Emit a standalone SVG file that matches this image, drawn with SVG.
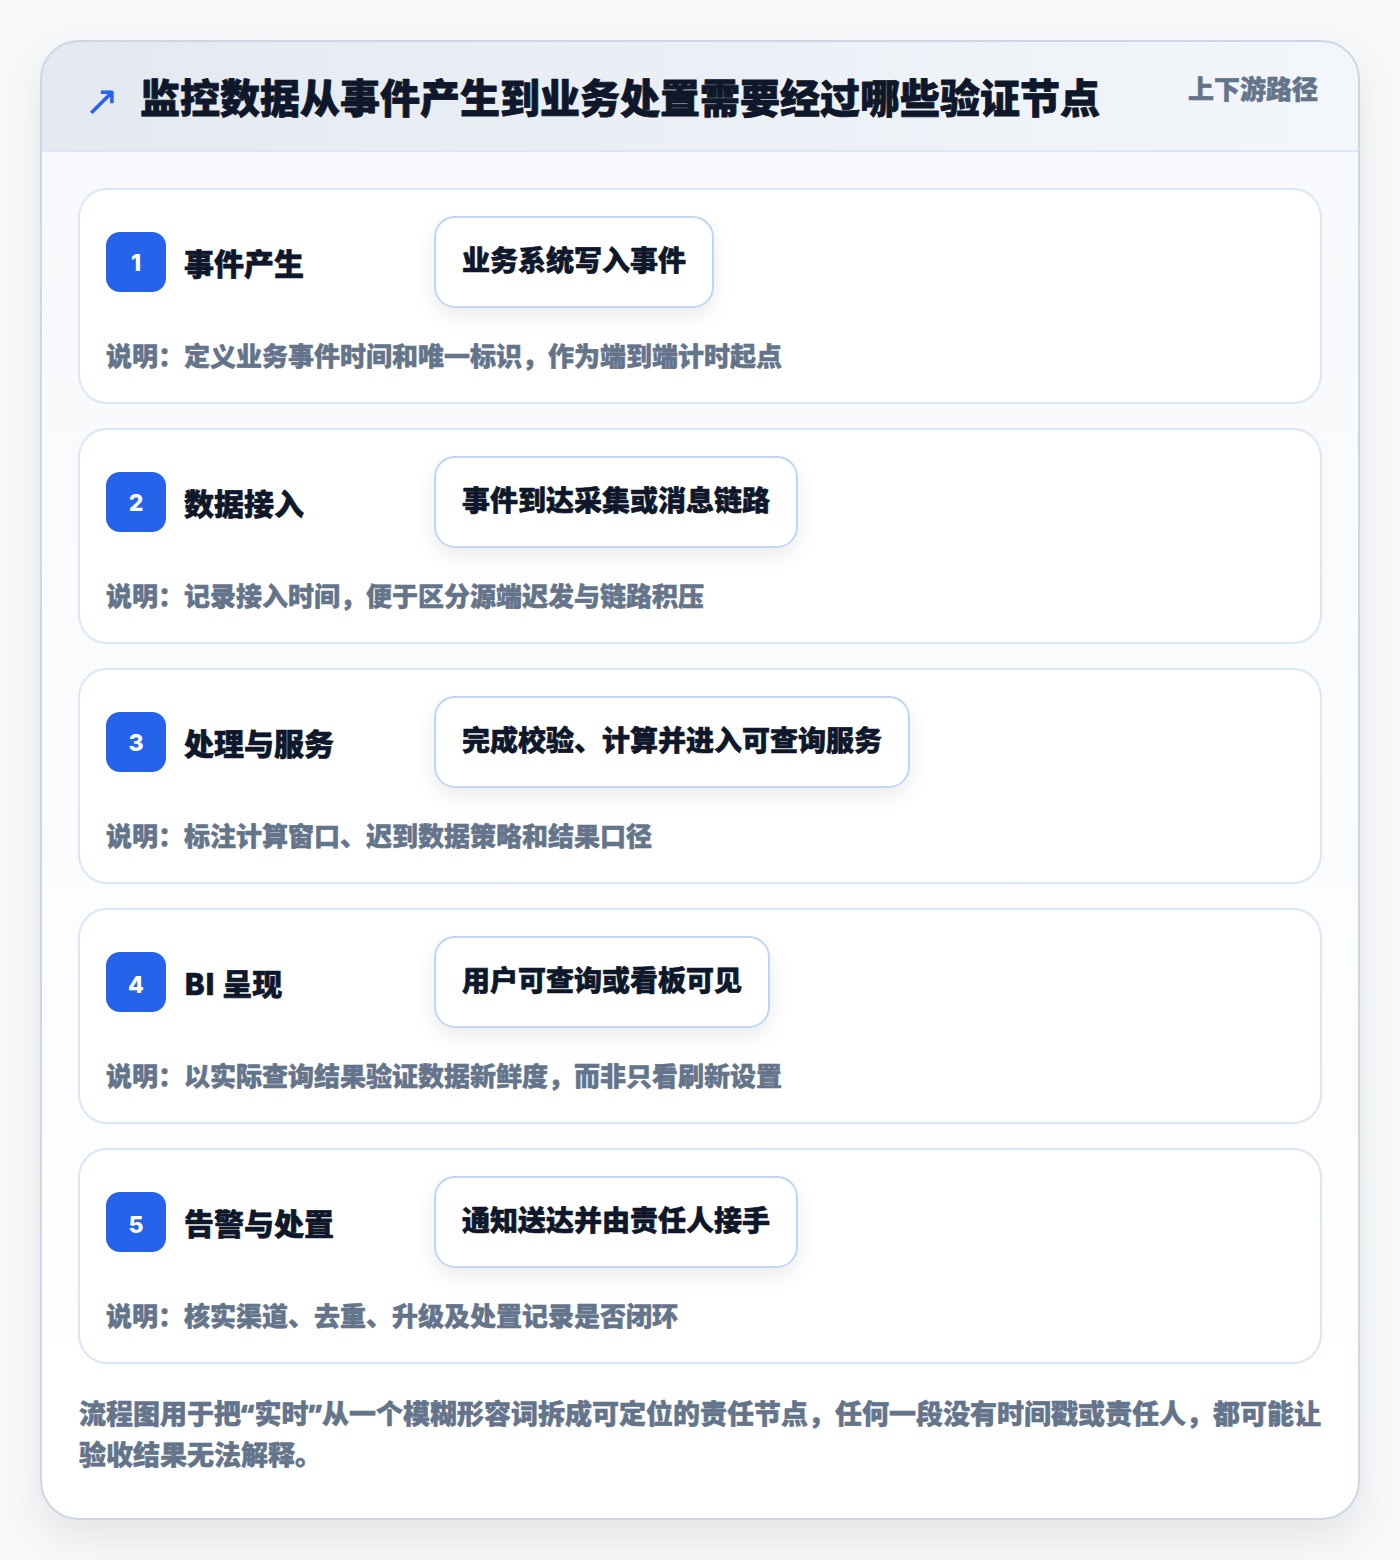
<svg xmlns="http://www.w3.org/2000/svg" width="1400" height="1560" viewBox="0 0 1400 1560">
  <style>
    text { font-family: "Noto Sans CJK SC", "Noto Sans", sans-serif; font-weight: 900; stroke-linejoin: round; }
    .title { font-size: 40px; fill: #0f172a; stroke: #0f172a; stroke-width: 0.8; }
    .sub { font-size: 26px; fill: #64748b; stroke: #64748b; stroke-width: 0.5; }
    .card { fill: #ffffff; stroke: #dbe7f7; stroke-width: 2; }
    .badge { fill: #2563eb; }
    .num { font-family: "Inter", "Noto Sans", sans-serif; font-size: 23px; font-weight: 800; fill: #ffffff; text-anchor: middle; }
    .step { font-size: 30px; fill: #0f172a; stroke: #0f172a; stroke-width: 0.6; }
    .pill { fill: #ffffff; stroke: #bfd6f3; stroke-width: 2; }
    .pilltext { font-size: 28px; fill: #0f172a; stroke: #0f172a; stroke-width: 0.6; }
    .desc { font-size: 26px; fill: #64748b; stroke: #64748b; stroke-width: 0.5; }
    .foot { font-size: 27px; fill: #64748b; stroke: #64748b; stroke-width: 0.5; }
    .q { font-family: "Noto Sans", sans-serif; font-weight: 900; }
  </style>
  <defs>
    <filter id="outerShadow" x="-10%" y="-10%" width="120%" height="125%">
      <feDropShadow dx="0" dy="18" stdDeviation="18" flood-color="#0f172a" flood-opacity="0.08"/>
    </filter>
    <filter id="pillShadow" x="-20%" y="-30%" width="140%" height="190%">
      <feDropShadow dx="0" dy="8" stdDeviation="9" flood-color="#0f172a" flood-opacity="0.08"/>
    </filter>
    <linearGradient id="headGrad" x1="0" y1="0" x2="1" y2="0">
      <stop offset="0" stop-color="#e4e9f1"/>
      <stop offset="1" stop-color="#f3f6fa"/>
    </linearGradient>
    <linearGradient id="bodyGrad" x1="0" y1="0" x2="0" y2="1">
      <stop offset="0" stop-color="#f7f9fc"/>
      <stop offset="1" stop-color="#ffffff"/>
    </linearGradient>
    <clipPath id="outerClip">
      <rect x="41" y="41" width="1318" height="1478" rx="38"/>
    </clipPath>
  </defs>

  <rect width="1400" height="1560" fill="#f7f8fa"/>

  <g id="frame">
    <rect x="41" y="41" width="1318" height="1478" rx="38" fill="#ffffff" filter="url(#outerShadow)"/>
    <g clip-path="url(#outerClip)">
      <rect x="41" y="151" width="1318" height="1368" fill="url(#bodyGrad)"/>
      <rect x="41" y="41" width="1318" height="110" fill="url(#headGrad)"/>
      <line x1="41" y1="151" x2="1359" y2="151" stroke="#dbe7f7" stroke-width="2"/>
    </g>
    <rect x="41" y="41" width="1318" height="1478" rx="38" fill="none" stroke="#cdd7e4" stroke-width="2"/>
  </g>

  <g id="header">
    <text x="84" y="115" font-size="42" fill="#2563eb" style="font-family:'DejaVu Sans',sans-serif;font-weight:400">↗</text>
    <text class="title" x="140" y="113">监控数据从事件产生到业务处置需要经过哪些验证节点</text>
    <text class="sub" x="1318" y="99" text-anchor="end">上下游路径</text>
  </g>

  <g id="step1">
    <rect class="card" x="79" y="189" width="1242" height="214" rx="28"/>
    <rect class="badge" x="106" y="232" width="60" height="60" rx="14"/>
    <text class="num" x="136" y="271">1</text>
    <text class="step" x="184" y="275">事件产生</text>
    <rect class="pill" x="435" y="217" width="278" height="90" rx="20" filter="url(#pillShadow)"/>
    <text class="pilltext" x="462" y="271">业务系统写入事件</text>
    <text class="desc" x="106" y="366">说明：定义业务事件时间和唯一标识，作为端到端计时起点</text>
  </g>

  <g id="step2">
    <rect class="card" x="79" y="429" width="1242" height="214" rx="28"/>
    <rect class="badge" x="106" y="472" width="60" height="60" rx="14"/>
    <text class="num" x="136" y="511">2</text>
    <text class="step" x="184" y="515">数据接入</text>
    <rect class="pill" x="435" y="457" width="362" height="90" rx="20" filter="url(#pillShadow)"/>
    <text class="pilltext" x="462" y="511">事件到达采集或消息链路</text>
    <text class="desc" x="106" y="606">说明：记录接入时间，便于区分源端迟发与链路积压</text>
  </g>

  <g id="step3">
    <rect class="card" x="79" y="669" width="1242" height="214" rx="28"/>
    <rect class="badge" x="106" y="712" width="60" height="60" rx="14"/>
    <text class="num" x="136" y="751">3</text>
    <text class="step" x="184" y="755">处理与服务</text>
    <rect class="pill" x="435" y="697" width="474" height="90" rx="20" filter="url(#pillShadow)"/>
    <text class="pilltext" x="462" y="751">完成校验、计算并进入可查询服务</text>
    <text class="desc" x="106" y="846">说明：标注计算窗口、迟到数据策略和结果口径</text>
  </g>

  <g id="step4">
    <rect class="card" x="79" y="909" width="1242" height="214" rx="28"/>
    <rect class="badge" x="106" y="952" width="60" height="60" rx="14"/>
    <text class="num" x="136" y="993">4</text>
    <text class="step" x="184" y="995">BI 呈现</text>
    <rect class="pill" x="435" y="937" width="334" height="90" rx="20" filter="url(#pillShadow)"/>
    <text class="pilltext" x="462" y="991">用户可查询或看板可见</text>
    <text class="desc" x="106" y="1086">说明：以实际查询结果验证数据新鲜度，而非只看刷新设置</text>
  </g>

  <g id="step5">
    <rect class="card" x="79" y="1149" width="1242" height="214" rx="28"/>
    <rect class="badge" x="106" y="1192" width="60" height="60" rx="14"/>
    <text class="num" x="136" y="1233">5</text>
    <text class="step" x="184" y="1235">告警与处置</text>
    <rect class="pill" x="435" y="1177" width="362" height="90" rx="20" filter="url(#pillShadow)"/>
    <text class="pilltext" x="462" y="1231">通知送达并由责任人接手</text>
    <text class="desc" x="106" y="1326">说明：核实渠道、去重、升级及处置记录是否闭环</text>
  </g>

  <g id="connectors"></g>

  <g id="footer">
    <text class="foot" x="79" y="1424">流程图用于把<tspan class="q">“</tspan>实时<tspan class="q">”</tspan>从一个模糊形容词拆成可定位的责任节点，任何一段没有时间戳或责任人，都可能让</text>
    <text class="foot" x="79" y="1465">验收结果无法解释。</text>
  </g>
</svg>
